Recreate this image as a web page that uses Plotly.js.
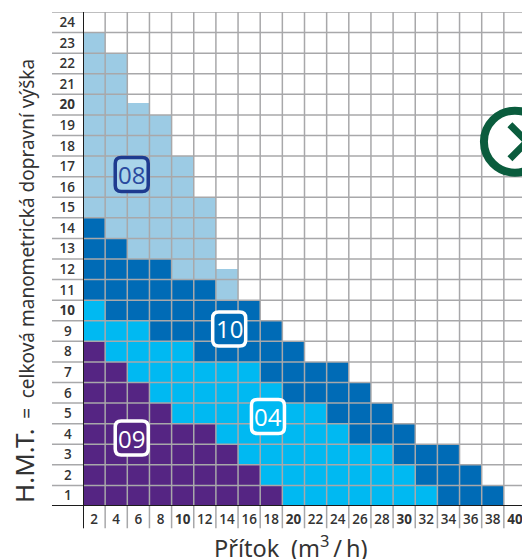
<!DOCTYPE html>
<html>
<head>
<meta charset="utf-8">
<script src="https://cdn.plot.ly/plotly-3.0.1.min.js"></script>
<style>html,body{margin:0;padding:0;overflow:hidden;background:#fff;width:522px;height:559px}</style>
</head>
<body>
<div id="chart" style="width:530px;height:559px"></div>
<script>
// flow rate category (upper edge of each 2 m3/h column)
const flowColumns = [2,4,6,8,10,12,14,16,18,20,22,24,26,28,30,32,34,36,38];
// height reached by each band per column (m)
const top09 = [8,7,6,5,4,4,3,2,1,0,0,0,0,0,0,0,0,0,0];
const top04 = [10,9,9,8,8,7,7,7,6,5,5,4,3,3,2,1,0,0,0];
const top10 = [14,13,12,12,11,11,10,10,9,8,7,7,6,5,4,3,3,2,1];
const top08 = [23,22,19.6,19,17,15,11.5,10,9,8,7,7,6,5,4,3,3,2,1];
const flowTicks = [2,4,6,8,10,12,14,16,18,20,22,24,26,28,30,32,34,36,38,40];
const headTicks = [1,2,3,4,5,6,7,8,9,10,11,12,13,14,15,16,17,18,19,20,21,22,23,24];
const badgeNames = ['08','10','04','09'];
const badgeFlow = [4.4,13.2,16.7,4.4];
const badgeHead = [16.1,8.6,4.35,3.3];
const badgeFill = ['#a9d4ea','#006bb6','#00b9f2','#552583'];
const badgeEdge = ['#1e3a8f','#ffffff','#ffffff','#ffffff'];

const GRID = '#a8a8aa', AXIS = '#1c1c1c';
const diff = (a, b) => a.map((v, i) => v - (b ? b[i] : 0));
const band = (name, y, color) => ({
  type: 'bar', name, x: flowColumns, y, width: 2, offset: -2,
  marker: {color, line: {width: 0}}, hoverinfo: 'skip'
});
const traces = [
  band('09', diff(top09), '#552583'),
  band('04', diff(top04, top09), '#00b9f2'),
  band('10', diff(top10, top04), '#006bb6'),
  band('08', diff(top08, top10), '#9ccbe4')
];

const shapes = [];
// grid sits above the bars
[0].concat(flowTicks).forEach(v => shapes.push({type:'line', layer:'above', xref:'x', yref:'paper', x0:v, x1:v, y0:-0.045, y1:1, line:{color:GRID, width:1.5}}));
[0].concat(headTicks).forEach(v => shapes.push({type:'line', layer:'above', xref:'paper', yref:'y', x0:-0.07, x1:1, y0:v, y1:v, line:{color:GRID, width:1.5}}));
// heavy axes
shapes.push({type:'line', layer:'above', xref:'x', yref:'paper', x0:0, x1:0, y0:-0.045, y1:1, line:{color:AXIS, width:2}});
shapes.push({type:'line', layer:'above', xref:'paper', yref:'y', x0:-0.07, x1:1, y0:0, y1:0, line:{color:AXIS, width:2}});
// rounded badges
const W = 16.5, H = 17, R = 6;
const rr = `M${-W+R} ${-H} L${W-R} ${-H} Q${W} ${-H} ${W} ${-H+R} L${W} ${H-R} Q${W} ${H} ${W-R} ${H} L${-W+R} ${H} Q${-W} ${H} ${-W} ${H-R} L${-W} ${-H+R} Q${-W} ${-H} ${-W+R} ${-H} Z`;
const annotations = [];
badgeNames.forEach((n, i) => {
  shapes.push({type:'path', layer:'above', xref:'x', yref:'y', xsizemode:'pixel', ysizemode:'pixel',
    xanchor:badgeFlow[i], yanchor:badgeHead[i], path:rr,
    fillcolor:badgeFill[i], line:{color:badgeEdge[i], width:3.5}});
  annotations.push({x:badgeFlow[i], y:badgeHead[i], xref:'x', yref:'y', text:n, showarrow:false,
    xanchor:'center', yanchor:'middle',
    font:{family:'Open Sans', size:24, weight:400, color: i === 0 ? '#2a4a9f' : '#ffffff'}});
});
// green circle symbol on the right
shapes.push({type:'circle', layer:'above', xref:'x', yref:'y', xsizemode:'pixel', ysizemode:'pixel',
  xanchor:39, yanchor:17.7, x0:-31, x1:31, y0:-31, y1:31, fillcolor:'#ffffff', line:{color:'#0a5c3d', width:8}});
shapes.push({type:'path', layer:'above', xref:'x', yref:'y', xsizemode:'pixel', ysizemode:'pixel',
  xanchor:39, yanchor:17.7, path:'M-5 -17 L12 0 L-5 17', line:{color:'#0a5c3d', width:7}});

annotations.push({xref:'paper', yref:'paper', x:(291-83)/443, y:(506-546)/494, xanchor:'center', yanchor:'middle',
  text:'Přítok\u2002(m<sup>3</sup>\u2009/\u2009h)', showarrow:false,
  font:{family:'Noto Sans', size:23.5, color:'#333'}});
annotations.push({xref:'paper', yref:'paper', x:(24-83)/443, y:(506-281)/494, xanchor:'center', yanchor:'middle', textangle:-90, showarrow:false,
  text:'<span style="font-size:26px">H.M.T.</span>\u2002<span style="font-size:19px">=\u2002celková manometrická dopravní výška</span>',
  font:{family:'Noto Sans', size:19, color:'#333'}});

const bold = v => v % 10 === 0 ? `<b>${v}</b>` : String(v);
const layout = {
  width: 530, height: 559,
  margin: {l: 83, r: 4, t: 12, b: 53},
  paper_bgcolor: '#fff', plot_bgcolor: '#fff',
  barmode: 'stack', bargap: 0, showlegend: false,
  shapes, annotations,
  xaxis: {range:[0,40], showgrid:false, zeroline:false, showline:false, ticks:'',
    tickmode:'array', tickvals:flowTicks.map(v => v - 1), ticktext:flowTicks.map(bold), tickangle:0,
    tickfont:{family:'Open Sans', size:13.5, weight:600, color:'#333'}, ticklabelstandoff:3},
  yaxis: {range:[0,24], showgrid:false, zeroline:false, showline:false, ticks:'',
    tickmode:'array', tickvals:headTicks.map(v => v - 0.5),
    ticktext:headTicks.map(v => v < 10 ? v + '\u2005' : bold(v)),
    tickfont:{family:'Open Sans', size:13.5, weight:600, color:'#333'}, ticklabelstandoff:7}
};
Plotly.newPlot('chart', traces, layout, {displayModeBar:false, staticPlot:true});
</script>
</body>
</html>
